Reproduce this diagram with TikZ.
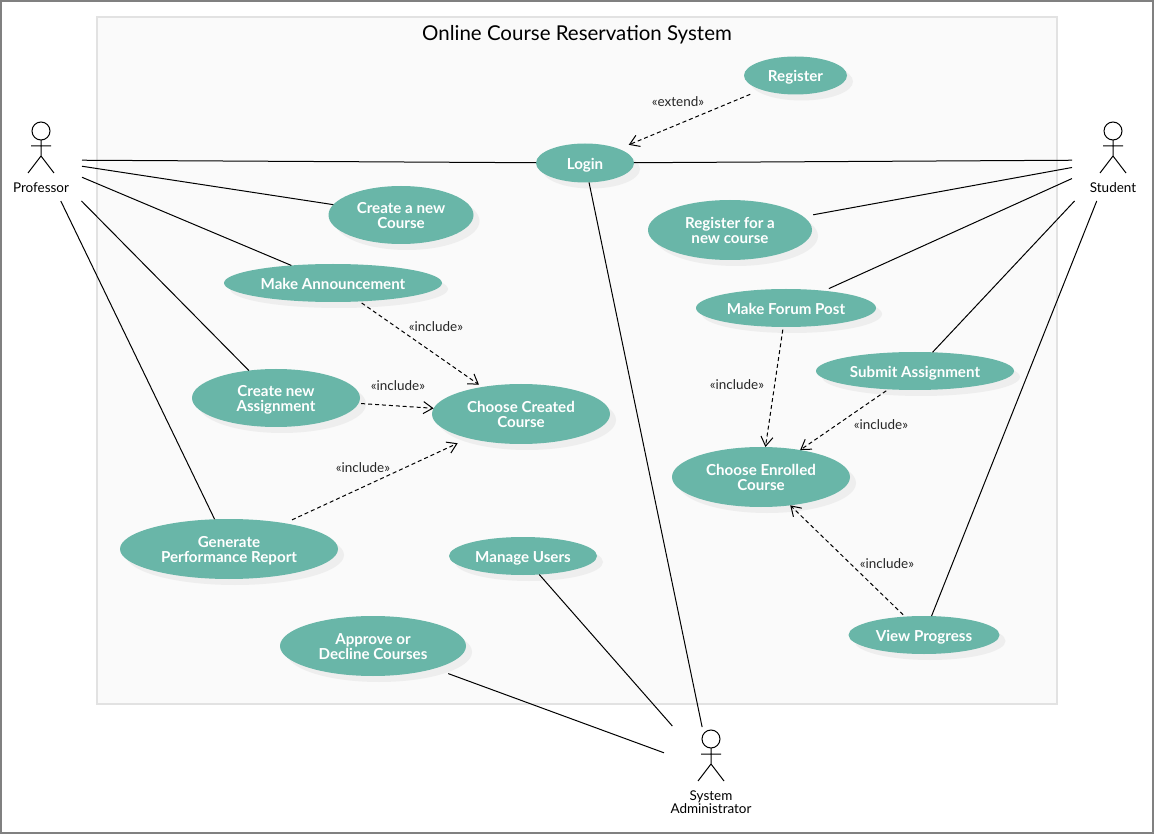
\documentclass[tikz,border=0pt]{standalone}
\usepackage{fontspec}
\setmainfont{Lato}
\usetikzlibrary{shapes.geometric,shadows,arrows.meta}
\definecolor{ucfill}{HTML}{69B6A8}
\definecolor{ucshadow}{HTML}{EEEEEE}
\definecolor{boxfill}{HTML}{FAFAFA}
\definecolor{boxline}{HTML}{E2E2E2}
\definecolor{framegray}{HTML}{808080}
\tikzset{
  usecase/.style 2 args={ellipse,fill=ucfill,draw=none,inner sep=0pt,outer sep=0pt,
    minimum width=#1*0.75pt,minimum height=#2*0.75pt,text=white,
    font=\fontsize{11.35}{11.25}\selectfont\bfseries,
    copy shadow={shadow xshift=4.5pt,shadow yshift=-4.5pt,fill=ucshadow,draw=none,opacity=1}},
  actorbox/.style={rectangle,draw=none,fill=none,inner sep=0pt,outer sep=0pt,minimum width=82*0.75pt,minimum height=82*0.75pt},
  actorline/.style={line width=0.75pt,draw=black},
  actorlabel/.style={font=\fontsize{10.1}{9.4}\selectfont,align=center,inner sep=0pt,text=black},
  assoc/.style={line width=0.75pt,draw=black},
  dep/.style={line width=0.75pt,draw=black,dash pattern=on 3pt off 2.2pt,
    -{Straight Barb[length=7pt,width=9pt,line width=0.75pt]},shorten <=2pt},
  deplabel/.style={font=\fontsize{10.1}{10}\selectfont,inner sep=0pt,text=black!85},
}
\newcommand{\ucstext}[1]{\raisebox{-2.1pt}[\height][\depth]{\begin{tabular}{@{}c@{}}#1\end{tabular}}}
\newcommand{\stickman}[2]{%
  \draw[actorline] (#1,#2) circle[radius=9*0.75pt];
  \draw[actorline] (#1,#2+9) -- (#1,#2+25) (#1-10,#2+15) -- (#1+10,#2+15)
     (#1-13,#2+42) -- (#1,#2+25) -- (#1+13,#2+42);
}
\begin{document}
\begin{tikzpicture}[x=0.75pt,y=-0.75pt]
\useasboundingbox (0,0) rectangle (1154,834);
\fill[white] (0,0) rectangle (1154,834);
\draw[draw=framegray,line width=1.5pt] (1,1) rectangle (1153,833);
\draw[draw=boxline,fill=boxfill,line width=1.5pt] (97,17) rectangle (1057,704);
\node[font=\fontsize{15.35}{15}\selectfont,inner sep=0pt,text=black] (title) at (577,34.5) {Online Course Reservation System};

% actors
\node[actorbox] (professor) at (41,160) {};
\node[actorbox] (student) at (1113,160) {};
\node[actorbox,minimum width=94*0.75pt] (admin) at (711,770) {};
\stickman{41}{131}
\stickman{1113}{131}
\stickman{711}{739}
\node[actorlabel] (professorlabel) at (41,188) {Professor};
\node[actorlabel] (studentlabel) at (1113,188) {Student};
\node[actorlabel] (adminlabel) at (711,802) {System\\Administrator};

% use cases
\node[usecase={103}{38}] (register) at (795.5,75.5) {\ucstext{Register}};
\node[usecase={98}{39}] (login) at (585,163) {\ucstext{Login}};
\node[usecase={145}{58}] (newcourse) at (401,215) {\ucstext{Create a new\\Course}};
\node[usecase={218}{38}] (announce) at (333,283) {\ucstext{Make Announcement}};
\node[usecase={168}{58}] (assignment) at (276,398) {\ucstext{Create new\\Assignment}};
\node[usecase={178}{60}] (chosencreated) at (521,414) {\ucstext{Choose Created\\Course}};
\node[usecase={218}{60}] (report) at (229,549) {\ucstext{Generate\\Performance Report}};
\node[usecase={148}{38}] (users) at (523,556) {\ucstext{Manage Users}};
\node[usecase={186}{60}] (approve) at (373,646) {\ucstext{Approve or\\Decline Courses}};
\node[usecase={164}{60}] (regcourse) at (730,230) {\ucstext{Register for a\\new course}};
\node[usecase={180}{38}] (forum) at (786,308) {\ucstext{Make Forum Post}};
\node[usecase={198}{38}] (submit) at (915,371) {\ucstext{Submit Assignment}};
\node[usecase={178}{60}] (chosenenrolled) at (761,477) {\ucstext{Choose Enrolled\\Course}};
\node[usecase={151}{38}] (progress) at (924,635) {\ucstext{View Progress}};

% associations
\draw[assoc] (professor) -- (login);
\draw[assoc] (professor) -- (newcourse);
\draw[assoc] (professor) -- (announce);
\draw[assoc] (professor) -- (assignment);
\draw[assoc] (professor) -- (report);
\draw[assoc] (student) -- (login);
\draw[assoc,shorten >=7.5pt] (student) -- (regcourse);
\draw[assoc,shorten >=4pt] (student) -- (forum);
\draw[assoc] (student) -- (submit);
\draw[assoc] (student) -- (progress);
\draw[assoc,shorten <=1.5pt] (admin) -- (login);
\draw[assoc,shorten <=3pt] (admin) -- (users);
\draw[assoc,shorten >=11pt] (admin) -- (approve);

% dependencies
\draw[dep,shorten <=9pt,shorten >=8pt] (register) -- (login);
\draw[dep,shorten >=3pt] (announce) -- (chosencreated);
\draw[dep] (assignment) -- (chosencreated);
\draw[dep,shorten <=6pt,shorten >=9pt] (report) -- (chosencreated);
\draw[dep] (forum) -- (chosenenrolled);
\draw[dep] (submit) -- (chosenenrolled);
\draw[dep] (progress) -- (chosenenrolled);

\node[deplabel] (l1) at (678,102) {«extend»};
\node[deplabel] (l2) at (436,327) {«include»};
\node[deplabel] (l3) at (398,386) {«include»};
\node[deplabel] (l4) at (363,468) {«include»};
\node[deplabel] (l5) at (737,385) {«include»};
\node[deplabel] (l6) at (881,425) {«include»};
\node[deplabel] (l7) at (887,564) {«include»};
\end{tikzpicture}
\end{document}
